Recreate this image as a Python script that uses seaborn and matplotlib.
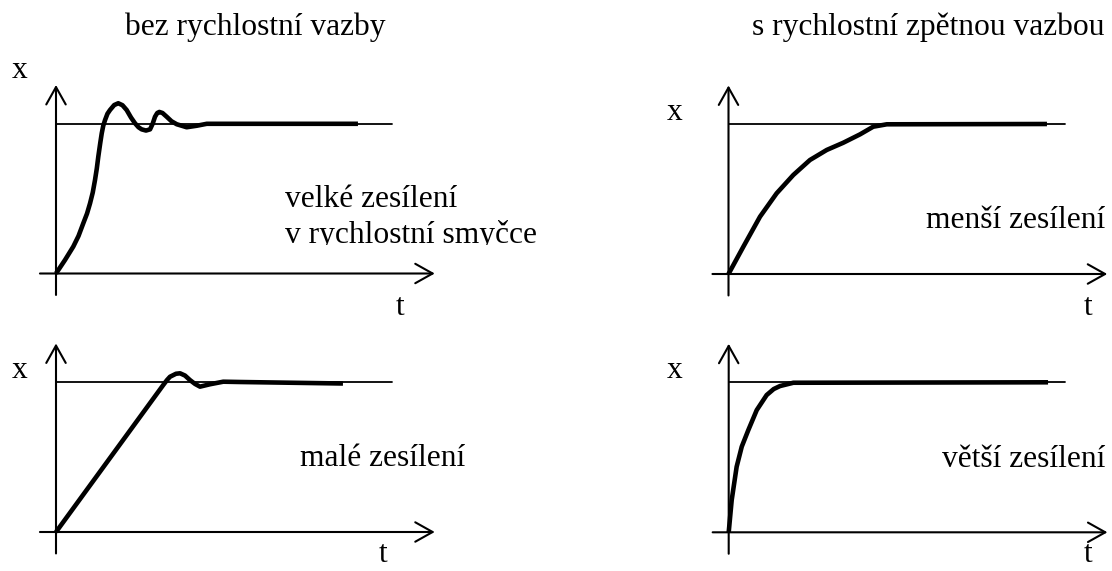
import numpy as np
import matplotlib
matplotlib.use("Agg")
import matplotlib.pyplot as plt
import seaborn as sns
from matplotlib.transforms import Bbox

# odezvy na skok (t a x, ustalena hodnota = 1)
tl_t = [0.0, 0.06, 0.115, 0.15, 0.182, 0.207, 0.227, 0.245, 0.26, 0.272, 0.282, 0.295, 0.305,
        0.315, 0.327, 0.343, 0.36, 0.388, 0.415, 0.443, 0.471, 0.5, 0.527, 0.55, 0.571, 0.6,
        0.627, 0.645, 0.66, 0.675, 0.689, 0.71, 0.738, 0.77, 0.805, 0.871, 0.938, 1.005, 2.013]
tl_x = [0.0, 0.09, 0.179, 0.25, 0.335, 0.4, 0.468, 0.54, 0.623, 0.7, 0.779, 0.87, 0.935,
        0.985, 1.023, 1.065, 1.09, 1.123, 1.135, 1.122, 1.09, 1.04, 1.001, 0.975, 0.961, 0.953,
        0.961, 1.0, 1.045, 1.07, 1.077, 1.07, 1.045, 1.015, 0.995, 0.975, 0.985, 0.998, 0.998]

bl_t = [0.0, 0.715, 0.74, 0.76, 0.8, 0.827, 0.86, 0.893, 0.927, 0.96, 1.027, 1.115, 1.227, 1.913]
bl_x = [0.0, 0.98, 1.013, 1.035, 1.055, 1.058, 1.043, 1.013, 0.987, 0.969, 0.985, 1.002, 1.0, 0.99]

tr_t = [0.0, 0.099, 0.21, 0.321, 0.432, 0.543, 0.655, 0.765, 0.877, 0.965, 1.055, 2.123]
tr_x = [0.0, 0.182, 0.382, 0.538, 0.66, 0.76, 0.827, 0.875, 0.931, 0.982, 0.998, 1.0]

br_t = [0.0, 0.02, 0.053, 0.087, 0.131, 0.187, 0.253, 0.3, 0.342, 0.431, 2.129]
br_x = [0.0, 0.215, 0.437, 0.571, 0.682, 0.815, 0.915, 0.955, 0.975, 0.997, 1.0]

titles = ["bez rychlostní vazby", "s rychlostní zpětnou vazbou"]
popisky = ["velké zesílení\nv rychlostní smyčce", "menší zesílení", "malé zesílení", "větší zesílení"]

sns.set_style("white")
plt.rcParams['font.family'] = ['Liberation Serif', 'DejaVu Serif']
plt.rcParams['text.color'] = 'black'

W, H = 1112, 571
S = 150.0  # px na jednotku
fig = plt.figure(figsize=(W / 100, H / 100), dpi=100)

T0, T1, X0, X1 = -0.3, 2.56, -0.3, 1.4


def panel(ox, oy, t, x):
    ax = fig.add_axes([(ox + T0 * S) / W, (H - (oy - X0 * S)) / H,
                       (T1 - T0) * S / W, (X1 - X0) * S / H])
    ax.set_xlim(T0, T1)
    ax.set_ylim(X0, X1)
    ax.axis('off')
    arr = dict(arrowstyle='->,head_length=1.25,head_width=0.7', lw=1.5, color='black',
               shrinkA=0, shrinkB=0, mutation_scale=10)
    ax.annotate('', xy=(0, 1.257), xytext=(0, -0.143), arrowprops=arr, annotation_clip=False)
    ax.annotate('', xy=(2.525, 0), xytext=(-0.107, 0), arrowprops=arr, annotation_clip=False)
    ax.plot([0, 2.24], [1, 1], color='black', lw=1.3, clip_on=False)
    sns.lineplot(x=t, y=x, ax=ax, sort=False, estimator=None, color='black', lw=3.3,
                 solid_capstyle='butt', solid_joinstyle='round', clip_on=False)
    return ax


panel(56, 273.5, tl_t, tl_x)
panel(728.5, 274, tr_t, tr_x)
panel(56, 532, bl_t, bl_x)
panel(728.7, 532.3, br_t, br_x)


def txt(px, py, s, ha='left', clip=None):
    tt = fig.text(px / W, 1 - py / H, s, ha=ha, va='baseline', fontsize=22.7,
                  color='black', linespacing=1.13)
    if clip is not None:
        tt.set_clip_box(Bbox.from_extents(0, H - clip, W, H))
        tt.set_clip_on(True)
    return tt


txt(255, 35, titles[0], ha='center')
txt(1105, 35, titles[1], ha='right')

for px, py in [(20, 78), (675, 120), (20, 378), (675, 378)]:
    txt(px, py, "x", ha='center')
for px, py in [(400, 315), (1088, 315), (383, 562), (1088, 562)]:
    txt(px, py, "t", ha='center')

txt(285, 207, popisky[0].split("\n")[0])
txt(285, 243, popisky[0].split("\n")[1], clip=245)
txt(1105, 228, popisky[1], ha='right')
txt(300, 466, popisky[2])
txt(1105, 467, popisky[3], ha='right')

fig.savefig("out.png", dpi=100)
